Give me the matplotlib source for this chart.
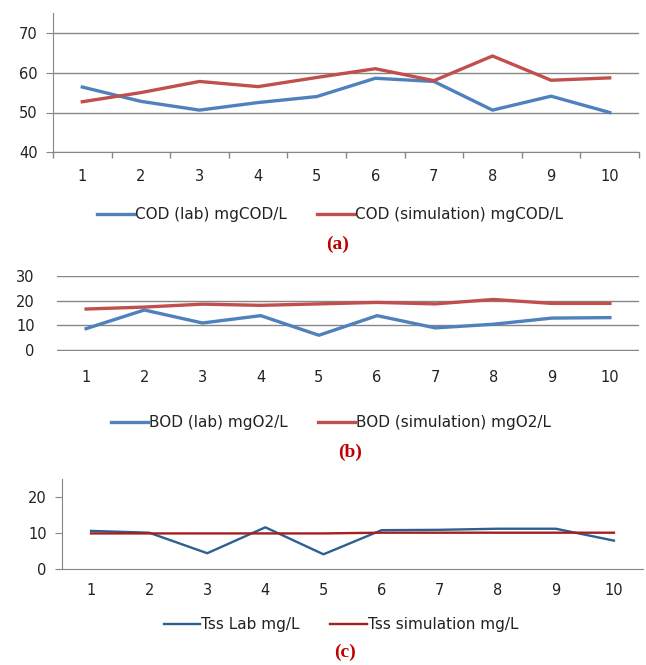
import matplotlib
matplotlib.use('Agg')
import matplotlib.pyplot as plt
import numpy as np

plt.rcParams['font.family'] = ['DejaVu Sans']

samples = list(range(1, 11))
cod_lab = [56.4, 52.8, 50.6, 52.5, 54.0, 58.6, 57.8, 50.6, 54.1, 50.0]
cod_sim = [52.7, 55.0, 57.8, 56.5, 58.8, 61.0, 58.0, 64.2, 58.1, 58.7]
bod_lab = [8.7, 16.3, 11.0, 14.0, 6.0, 14.0, 9.0, 10.5, 13.0, 13.2]
bod_sim = [16.7, 17.5, 18.7, 18.2, 18.8, 19.4, 18.8, 20.6, 19.0, 19.0]
tss_lab = [10.5, 10.0, 4.3, 11.5, 4.0, 10.7, 10.8, 11.1, 11.1, 7.8]
tss_sim = [9.8, 9.8, 9.8, 9.8, 9.8, 10.0, 10.0, 10.0, 10.0, 10.0]

W, H = 646, 665
fig = plt.figure(figsize=(W / 100, H / 100), dpi=100)

def box(x0, x1, ytop, ybot):
    return [x0 / W, 1 - ybot / H, (x1 - x0) / W, (ybot - ytop) / H]

grey = '#868686'
blue, red = '#4F81BD', '#C0504D'
blue2, red2 = '#2E5F91', '#A3201E'

# (a) COD
ax1 = fig.add_axes(box(53, 639, 13, 152.3))
ax1.plot(samples, cod_lab, color=blue, lw=2.4, label='COD (lab) mgCOD/L')
ax1.plot(samples, cod_sim, color=red, lw=2.4, label='COD (simulation) mgCOD/L')
ax1.set_ylim(40, 75)
ax1.set_yticks([40, 50, 60, 70])
ax1.grid(axis='y', color=grey, lw=1)
ax1.set_xlim(0.5, 10.5)
ax1.set_xticks(samples)
ax1.set_xticks(np.arange(0.5, 11, 1), minor=True)
ax1.tick_params(axis='x', which='major', length=0, pad=12)
ax1.tick_params(axis='x', which='minor', length=4, color=grey, width=1)
ax1.tick_params(axis='y', length=5, color=grey, pad=6)
for s in ['top', 'right']:
    ax1.spines[s].set_visible(False)
for s in ['left', 'bottom']:
    ax1.spines[s].set_color(grey)

# (b) BOD
ax2 = fig.add_axes(box(57, 639, 275.7, 350.7))
ax2.plot(samples, bod_lab, color=blue, lw=2.4, label='BOD (lab) mgO2/L')
ax2.plot(samples, bod_sim, color=red, lw=2.4, label='BOD (simulation) mgO2/L')
ax2.set_ylim(-0.3, 30.3)
ax2.set_yticks([0, 10, 20, 30])
ax2.grid(axis='y', color=grey, lw=1)
ax2.set_xlim(0.5, 10.5)
ax2.set_xticks(samples)
ax2.tick_params(axis='x', length=0, pad=14)
ax2.tick_params(axis='y', length=0, pad=16)
for s in ax2.spines.values():
    s.set_visible(False)

# (c) TSS
ax3 = fig.add_axes(box(62, 643, 478.7, 568.7))
ax3.plot(samples, tss_lab, color=blue2, lw=1.7, label='Tss Lab mg/L')
ax3.plot(samples, tss_sim, color=red2, lw=1.7, label='Tss simulation mg/L')
ax3.set_ylim(0, 25)
ax3.set_yticks([0, 10, 20])
ax3.set_xlim(0.5, 10.5)
ax3.set_xticks(samples)
ax3.tick_params(axis='x', length=0, pad=10)
ax3.tick_params(axis='y', length=5, color=grey, pad=6)
for s in ['top', 'right']:
    ax3.spines[s].set_visible(False)
for s in ['left', 'bottom']:
    ax3.spines[s].set_color(grey)

for ax in (ax1, ax2, ax3):
    ax.tick_params(labelsize=10.5, labelcolor='#222222')
    ax.set_axisbelow(True)

for ax, cx, cy in [(ax1, 330, 215), (ax2, 331, 423), (ax3, 341, 625)]:
    ax.legend(loc='center', bbox_to_anchor=(cx / W, 1 - cy / H),
              bbox_transform=fig.transFigure, ncol=2, frameon=False,
              fontsize=11, handlelength=2.4, handletextpad=0.05,
              columnspacing=2.0, labelcolor='#222222')

for txt, cx, cy in [('(a)', 338, 244), ('(b)', 350, 452), ('(c)', 345, 652)]:
    fig.text(cx / W, 1 - cy / H, txt, ha='center', va='center',
             family='Liberation Serif', fontweight='bold', fontsize=14,
             color='#C00000')

fig.savefig('out.png', dpi=100)
